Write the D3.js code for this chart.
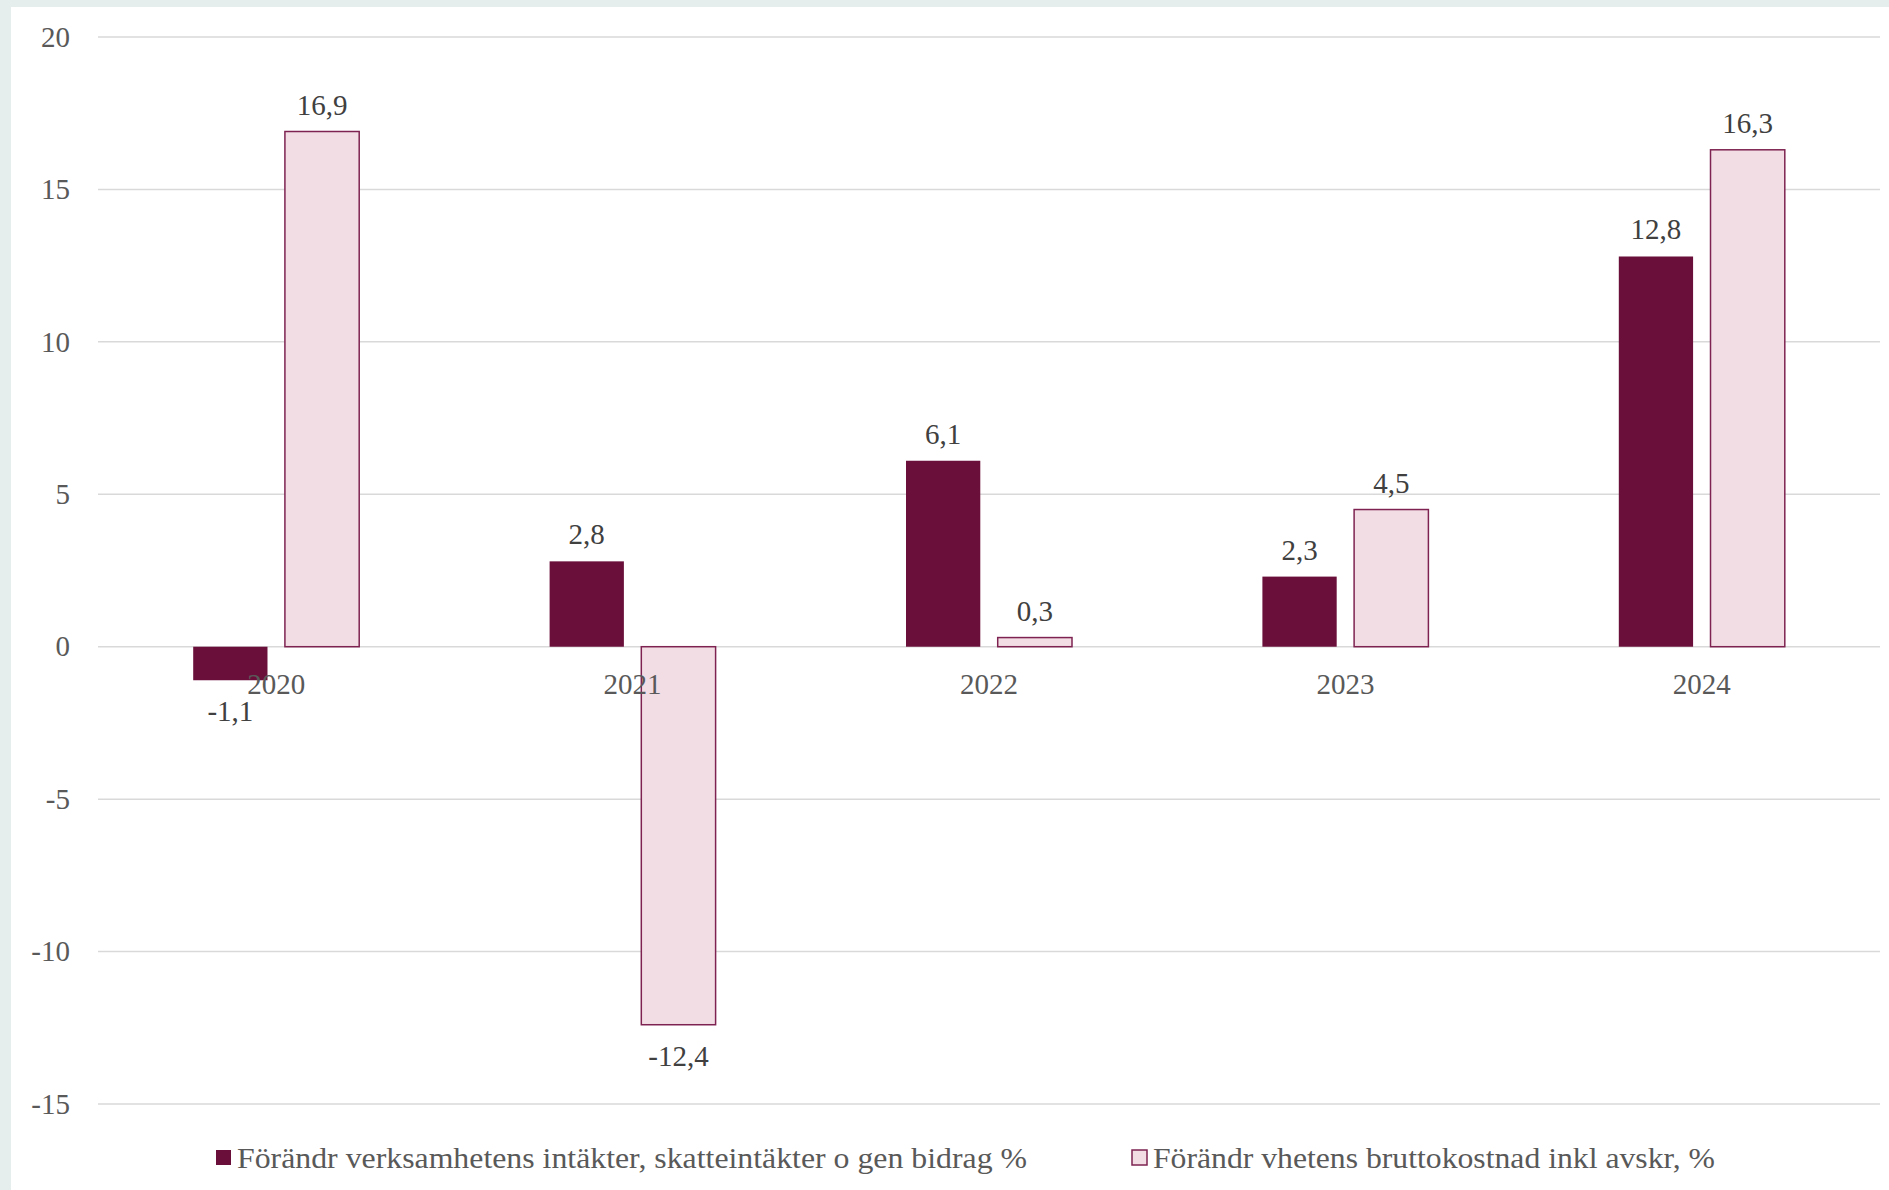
<!DOCTYPE html>
<html>
<head>
<meta charset="utf-8">
<script src="https://cdn.jsdelivr.net/npm/d3@7"></script>
<style>
  html, body { margin: 0; padding: 0; background: #E5EEEC; }
  svg { display: block; }
  text { font-family: "Liberation Serif", "DejaVu Serif", serif; }
</style>
</head>
<body>
<div id="chart"></div>
<script>
// chart data
const categories = ['2020', '2021', '2022', '2023', '2024'];
const seriesNames = [
  'Förändr verksamhetens intäkter, skatteintäkter o gen bidrag %',
  'Förändr vhetens bruttokostnad inkl avskr, %'
];
const intakter = [-1.1, 2.8, 6.1, 2.3, 12.8];
const kostnad = [16.9, -12.4, 0.3, 4.5, 16.3];
const yTicks = [-15, -10, -5, 0, 5, 10, 15, 20];

(function() {
  'use strict';

  const width = 1889;
  const height = 1190;
  const margin = { top: 37, right: 9, bottom: 86, left: 98 };

  const colors = {
    dark: '#6A0F3A',
    light: '#F2DDE4',
    lightStroke: '#7E2351'
  };

  const svg = d3.select('#chart')
    .append('svg')
    .attr('width', width)
    .attr('height', height)
    .attr('viewBox', `0 0 ${width} ${height}`);

  // white card over the pale frame
  svg.append('rect')
    .attr('x', 11).attr('y', 7)
    .attr('width', width - 11).attr('height', height - 7)
    .attr('fill', '#fff');

  const y = d3.scaleLinear()
    .domain([-15, 20])
    .range([height - margin.bottom, margin.top]);

  const x = d3.scaleBand()
    .domain(categories)
    .range([margin.left, width - margin.right])
    .paddingInner(0);

  const x1 = d3.scaleBand()
    .domain([0, 1])
    .range([-83, 83])
    .paddingInner(0.19);

  // gridlines
  svg.append('g')
    .selectAll('line')
    .data(yTicks)
    .enter().append('line')
    .attr('x1', margin.left)
    .attr('x2', width - margin.right)
    .attr('y1', d => y(d))
    .attr('y2', d => y(d))
    .attr('stroke', '#D9D9D9')
    .attr('stroke-width', 1.5);

  // y tick labels
  const yAxis = d3.axisLeft(y)
    .tickValues(yTicks)
    .tickSize(0)
    .tickPadding(0)
    .tickFormat(d => String(d).replace('.', ','));

  const gy = svg.append('g')
    .attr('transform', `translate(70,0)`)
    .call(yAxis);
  gy.select('.domain').remove();
  gy.selectAll('text')
    .attr('fill', '#595959')
    .style('font-family', '"Liberation Serif", serif')
    .style('font-size', '29px');

  const series = [intakter, kostnad];
  const fmt = v => v.toFixed(1).replace('.', ',');

  series.forEach((vals, si) => {
    const g = svg.append('g');
    g.selectAll('rect')
      .data(vals)
      .enter().append('rect')
      .attr('x', (d, i) => x(categories[i]) + x.bandwidth() / 2 + x1(si))
      .attr('width', x1.bandwidth())
      .attr('y', d => y(Math.max(0, d)))
      .attr('height', d => Math.abs(y(d) - y(0)))
      .attr('fill', si === 0 ? colors.dark : colors.light)
      .attr('stroke', si === 0 ? 'none' : colors.lightStroke)
      .attr('stroke-width', 1.5);
  });

  // category labels just under the zero line
  const gx = svg.append('g')
    .attr('transform', `translate(0,${y(0)})`)
    .call(d3.axisBottom(x).tickSize(0).tickPadding(0));
  gx.select('.domain').remove();
  gx.selectAll('text')
    .attr('dy', 0)
    .attr('y', 47)
    .attr('fill', '#595959')
    .style('font-family', '"Liberation Serif", serif')
    .style('font-size', '29px');

  // data labels
  series.forEach((vals, si) => {
    svg.append('g')
      .selectAll('text')
      .data(vals)
      .enter().append('text')
      .attr('x', (d, i) => x(categories[i]) + x.bandwidth() / 2 + x1(si) + x1.bandwidth() / 2)
      .attr('y', d => d >= 0 ? y(d) - 17 : y(d) + 41)
      .attr('text-anchor', 'middle')
      .attr('fill', '#404040')
      .style('font-size', '29px')
      .text(d => fmt(d));
  });

  // legend
  const legendItems = [
    { x: 216, len: 790, name: seriesNames[0], fill: colors.dark, stroke: 'none' },
    { x: 1132, len: 562, name: seriesNames[1], fill: colors.light, stroke: colors.lightStroke }
  ];
  const lg = svg.append('g').attr('transform', 'translate(0,1158)');
  legendItems.forEach(item => {
    lg.append('rect')
      .attr('x', item.x).attr('y', -8)
      .attr('width', 15).attr('height', 15)
      .attr('fill', item.fill)
      .attr('stroke', item.stroke)
      .attr('stroke-width', 1.5);
    lg.append('text')
      .attr('x', item.x + 21)
      .attr('y', 10)
      .attr('fill', '#595959')
      .attr('textLength', item.len)
      .attr('lengthAdjust', 'spacingAndGlyphs')
      .style('font-size', '29px')
      .text(item.name);
  });
})();
</script>
</body>
</html>
